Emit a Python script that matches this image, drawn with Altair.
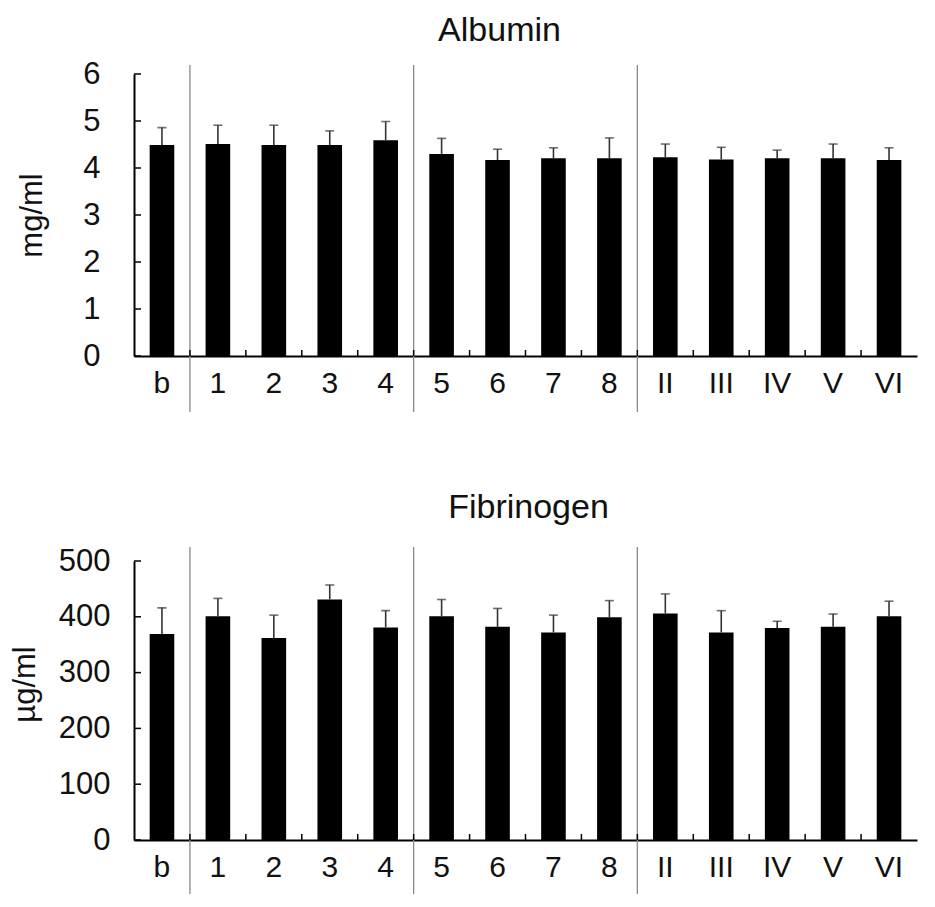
import altair as alt
import pandas as pd

FONT = "Liberation Sans"

categories = ["b", "1", "2", "3", "4", "5", "6", "7", "8", "II", "III", "IV", "V", "VI"]
albumin_mean = [4.49, 4.51, 4.49, 4.49, 4.59, 4.30, 4.17, 4.21, 4.21, 4.23, 4.18, 4.21, 4.21, 4.17]
albumin_err = [0.37, 0.40, 0.42, 0.30, 0.40, 0.33, 0.23, 0.22, 0.43, 0.28, 0.26, 0.17, 0.30, 0.26]
fib_mean = [369, 401, 362, 431, 381, 401, 382, 372, 399, 406, 372, 380, 382, 401]
fib_err = [47, 32, 41, 26, 30, 30, 33, 31, 30, 35, 39, 12, 23, 27]
separators = ["1", "5", "II"]
albumin_ticks = [0, 1, 2, 3, 4, 5, 6]
fib_ticks = [0, 100, 200, 300, 400, 500]

W = 783


def panel(title, means, errs, ticks, ymax, ytitle, height, label_pad,
          title_x, title_y, title_dx, title_offset, sep_top, sep_bottom):
    df = pd.DataFrame({"cat": categories, "mean": means, "err": errs})
    x_scale = alt.Scale(domain=categories, paddingInner=0, paddingOuter=0)
    y_scale = alt.Scale(domain=[0, ymax], nice=False, zero=True)

    x_axis = alt.Axis(title=None, ticks=False, labelAngle=0, labelFontSize=30,
                      labelFont=FONT, labelColor="#111", labelPadding=12,
                      domainWidth=2, domainColor="black", grid=False)
    y_axis = alt.Axis(values=ticks, ticks=False, grid=False, title=ytitle,
                      labelFontSize=31, labelFont=FONT, labelColor="#111",
                      labelPadding=label_pad, domainWidth=2, domainColor="black",
                      titleFont=FONT, titleFontSize=31, titleFontWeight="normal",
                      titleColor="#111", titleX=title_x, titleY=title_y,
                      titleAngle=-90, titleAlign="center", titleBaseline="middle")

    base = alt.Chart(df)
    bars = base.mark_bar(color="black", width={"band": 0.44}).encode(
        x=alt.X("cat:N", scale=x_scale, sort=categories, axis=x_axis),
        y=alt.Y("mean:Q", scale=y_scale, axis=y_axis),
    )
    err_rule = base.transform_calculate(hi="datum.mean + datum.err").mark_rule(
        color="#333", strokeWidth=1.6
    ).encode(
        x=alt.X("cat:N", scale=x_scale, sort=categories),
        y=alt.Y("mean:Q", scale=y_scale),
        y2="hi:Q",
    )
    err_cap = base.transform_calculate(hi="datum.mean + datum.err").mark_tick(
        color="#333", thickness=1.6, size=9
    ).encode(
        x=alt.X("cat:N", scale=x_scale, sort=categories),
        y=alt.Y("hi:Q", scale=y_scale),
    )
    ytick = alt.Chart(pd.DataFrame({"t": ticks})).mark_rule(
        color="black", strokeWidth=1.5
    ).encode(
        y=alt.Y("t:Q", scale=y_scale),
        x=alt.value(0),
        x2=alt.value(7),
    )
    xtick = alt.Chart(pd.DataFrame({"cat": categories[1:]})).mark_rule(
        color="black", strokeWidth=1.5
    ).encode(
        x=alt.X("cat:N", scale=x_scale, bandPosition=0),
        y=alt.value(height),
        y2=alt.value(height - 6),
    )
    seps = alt.Chart(pd.DataFrame({"cat": separators})).mark_rule(
        color="#8a8a8a", strokeWidth=1.3
    ).encode(
        x=alt.X("cat:N", scale=x_scale, bandPosition=0),
        y=alt.value(sep_top),
        y2=alt.value(height + sep_bottom),
    )
    return alt.layer(bars, seps, err_rule, err_cap, ytick, xtick).properties(
        width=W,
        height=height,
        title=alt.Title(title, font=FONT, fontSize=34, fontWeight="normal",
                        color="#111", anchor="middle", dx=title_dx,
                        offset=title_offset),
    )


top = panel("Albumin", albumin_mean, albumin_err, albumin_ticks, 6, "mg/ml",
            282, 34, -102, 141, -26, 10, -9, 56)
bottom = panel("Fibrinogen", fib_mean, fib_err, fib_ticks, 500, "µg/ml",
               279, 24, -109, 123, 3, 20, -14, 54)

chart = alt.vconcat(top, bottom, spacing=78).properties(
    padding={"left": 0, "top": 6, "right": 5, "bottom": 5},
    background="white",
).configure_view(stroke=None)

chart.save("out.html", embed_options={"renderer": "svg", "actions": False})
